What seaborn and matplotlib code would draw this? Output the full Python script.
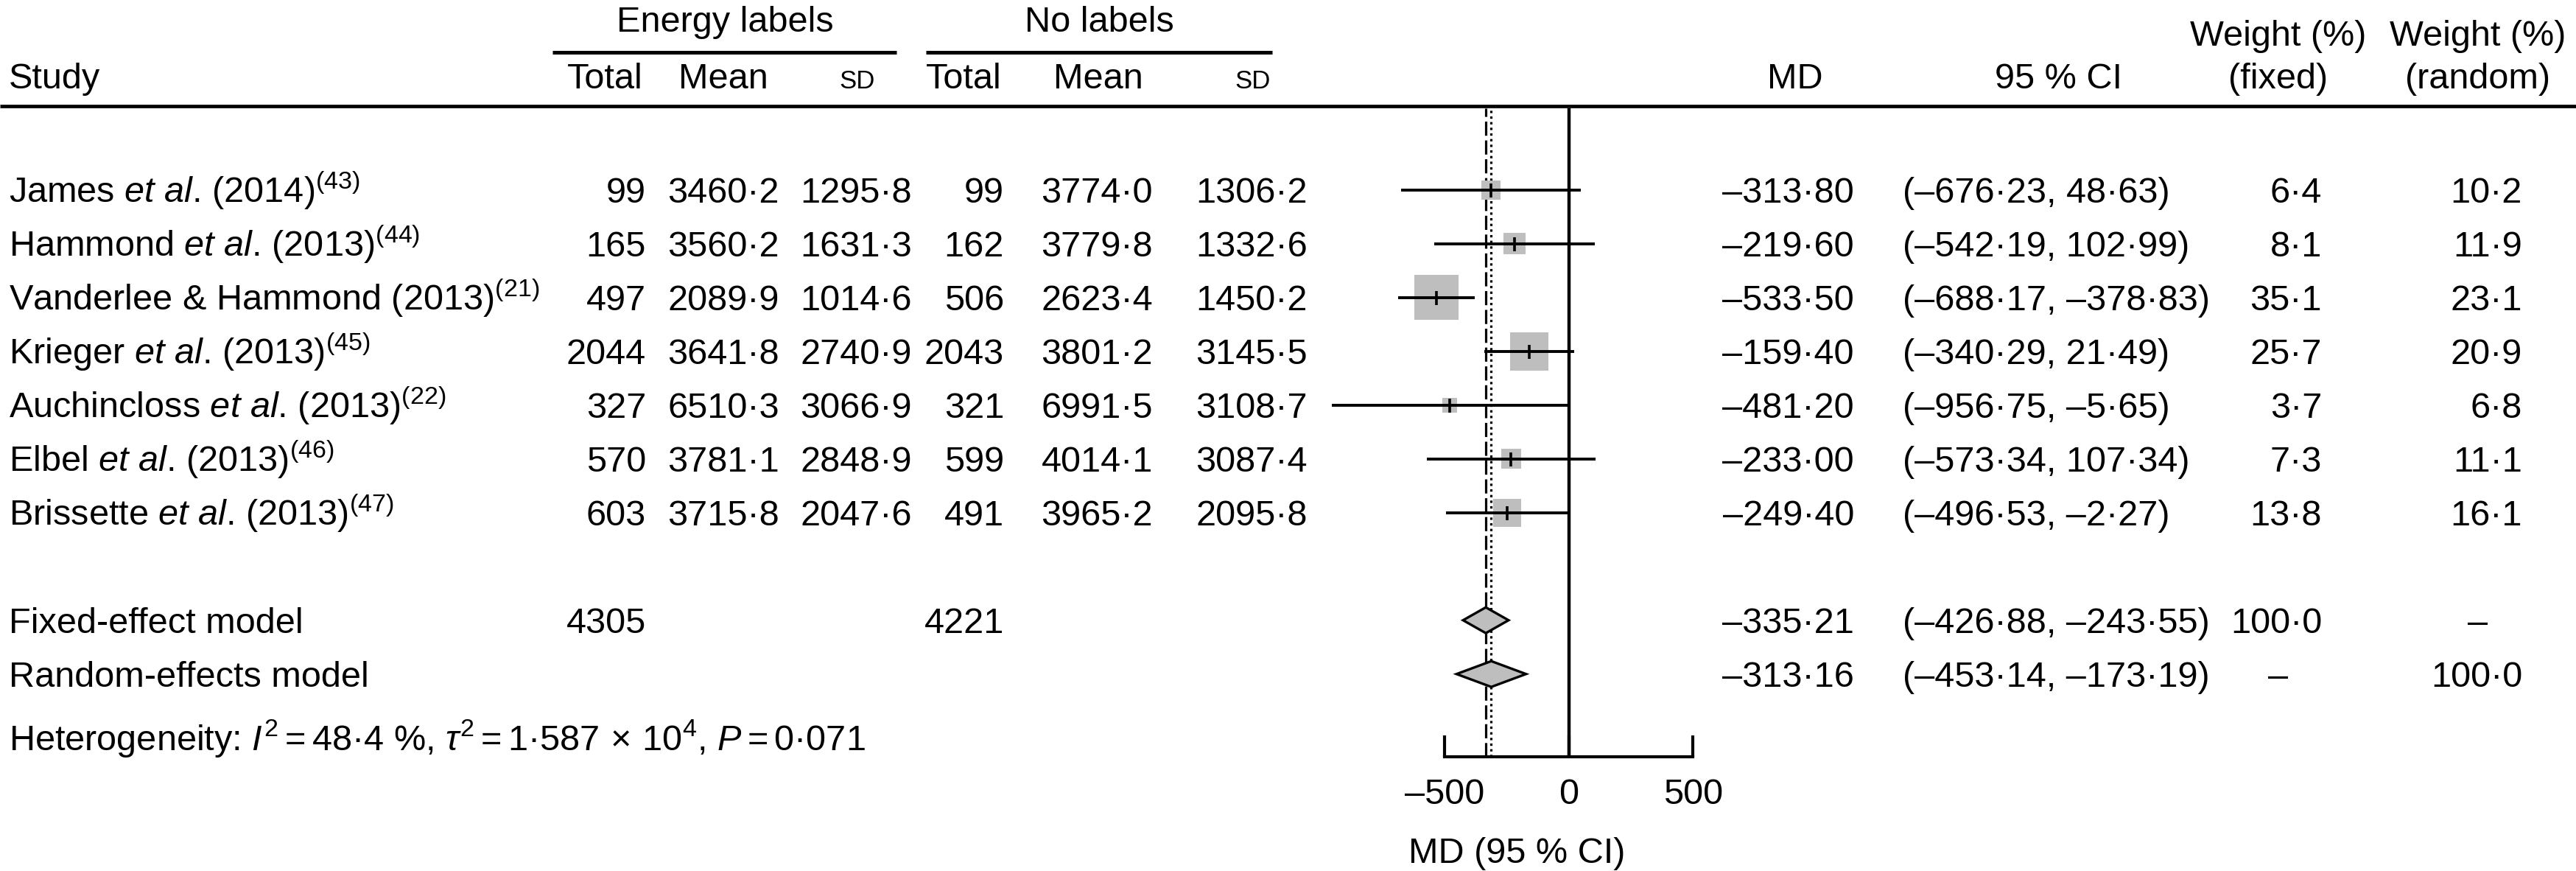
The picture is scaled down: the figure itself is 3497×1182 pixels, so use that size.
import numpy as np
import pandas as pd
import matplotlib
matplotlib.use("Agg")
import matplotlib.pyplot as plt
import matplotlib.transforms as mtransforms
from matplotlib.lines import Line2D
import seaborn as sns

# ---------------- data ----------------
studies = [
    r"James $\mathit{et\ al}$. (2014)$^{(43)}$",
    r"Hammond $\mathit{et\ al}$. (2013)$^{(44)}$",
    r"Vanderlee & Hammond (2013)$^{(21)}$",
    r"Krieger $\mathit{et\ al}$. (2013)$^{(45)}$",
    r"Auchincloss $\mathit{et\ al}$. (2013)$^{(22)}$",
    r"Elbel $\mathit{et\ al}$. (2013)$^{(46)}$",
    r"Brissette $\mathit{et\ al}$. (2013)$^{(47)}$",
]
e_total = [99, 165, 497, 2044, 327, 570, 603]
e_mean = [3460.2, 3560.2, 2089.9, 3641.8, 6510.3, 3781.1, 3715.8]
e_sd = [1295.8, 1631.3, 1014.6, 2740.9, 3066.9, 2848.9, 2047.6]
c_total = [99, 162, 506, 2043, 321, 599, 491]
c_mean = [3774.0, 3779.8, 2623.4, 3801.2, 6991.5, 4014.1, 3965.2]
c_sd = [1306.2, 1332.6, 1450.2, 3145.5, 3108.7, 3087.4, 2095.8]
md = [-313.80, -219.60, -533.50, -159.40, -481.20, -233.00, -249.40]
ci_lo = [-676.23, -542.19, -688.17, -340.29, -956.75, -573.34, -496.53]
ci_hi = [48.63, 102.99, -378.83, 21.49, -5.65, 107.34, -2.27]
w_fixed = [6.4, 8.1, 35.1, 25.7, 3.7, 7.3, 13.8]
w_random = [10.2, 11.9, 23.1, 20.9, 6.8, 11.1, 16.1]

pooled_labels = ["Fixed-effect model", "Random-effects model"]
pooled_md = [-335.21, -313.16]
pooled_lo = [-426.88, -453.14]
pooled_hi = [-243.55, -173.19]
pooled_e_total = [4305, None]
pooled_c_total = [4221, None]
pooled_w_fixed = [100.0, None]
pooled_w_random = [None, 100.0]

heterogeneity = (r"Heterogeneity: $I^{2}=$48·4 %, $\tau^{2}=$1·587$\,\times\,$10$^{4}$, "
                 r"$P=$0·071")
xticks = [-500, 0, 500]
xlabel = "MD (95 % CI)"


def fmt(v, nd):
    if v is None:
        return "\u2013"
    s = f"{v:.{nd}f}"
    return s.replace("-", "\u2013").replace(".", "\u00b7")


# ---------------- style ----------------
sns.set_theme(style="white")
plt.rcParams["font.family"] = ["Liberation Sans", "DejaVu Sans"]
plt.rcParams["mathtext.fontset"] = "custom"
plt.rcParams["mathtext.rm"] = "Liberation Sans"
plt.rcParams["mathtext.it"] = "Liberation Sans:italic"
plt.rcParams["mathtext.bf"] = "Liberation Sans:bold"

FS = 35
FS_SMALL = 25
GRAY = "#BEBEBE"
W, H, DPI = 3497, 1182, 100

fig = plt.figure(figsize=(W / DPI, H / DPI), dpi=DPI, facecolor="white")


def fx(px):
    return px / W


def fy(py):
    return 1 - py / H


# forest axes layout
ZERO_PX, PX_PER = 2130, 0.337
XL, XR = -1040, 620
ROW0_PX, ROW_H = 257.7, 73.0
TOP_PX, BOT_PX = 147, 1027
left_px = ZERO_PX + XL * PX_PER
right_px = ZERO_PX + XR * PX_PER
r_top = 1 + (TOP_PX - ROW0_PX) / ROW_H
r_bot = 1 + (BOT_PX - ROW0_PX) / ROW_H

ax = fig.add_axes([fx(left_px), fy(BOT_PX), (right_px - left_px) / W,
                   (BOT_PX - TOP_PX) / H])
ax.set_xlim(XL, XR)
ax.set_ylim(r_bot, r_top)
ax.patch.set_alpha(0)

rows = np.arange(1, len(studies) + 1)
pooled_rows = np.array([9, 10])
het_row = 11.17

df = pd.DataFrame({"md": md, "lo": ci_lo, "hi": ci_hi, "w": w_fixed, "row": rows})

# reference lines
ax.axvline(0, color="black", lw=3.2, zorder=1)
ax.axvline(pooled_md[0], color="black", lw=2.3, ls=(0, (6, 2)), zorder=1)
ax.axvline(pooled_md[1], color="black", lw=2.3, ls=(0, (1, 1.4)), zorder=1)

# squares (area proportional to fixed weight)
k = (10.2 * 72 / DPI) ** 2
sns.scatterplot(data=df, x="md", y="row", size="w",
                sizes=(k * min(w_fixed), k * max(w_fixed)),
                size_norm=(min(w_fixed), max(w_fixed)),
                marker="s", color=GRAY, edgecolor="none", linewidth=0,
                legend=False, ax=ax, zorder=2)

# CI lines and point ticks
ax.hlines(df["row"], df["lo"], df["hi"], color="black", lw=2.8, zorder=3)
ax.plot(df["md"], df["row"], ls="none", marker="|", ms=19 * 72 / DPI,
        mew=2.6, color="black", zorder=4)

# diamonds
hh = 17.5 / ROW_H
for r, m, lo, hi in zip(pooled_rows, pooled_md, pooled_lo, pooled_hi):
    ax.fill([lo, m, hi, m], [r, r - hh, r, r + hh], facecolor=GRAY,
            edgecolor="black", lw=2.4, zorder=3)

# axis
for s in ["top", "right", "left"]:
    ax.spines[s].set_visible(False)
ax.spines["bottom"].set_bounds(-500, 500)
ax.spines["bottom"].set_linewidth(3)
ax.spines["bottom"].set_color("black")
ax.set_xticks(xticks)
ax.set_xticklabels([fmt(t, 0) for t in xticks])
ax.set_yticks([])
ax.set_ylabel("")
ax.tick_params(axis="x", direction="in", length=21, width=3, pad=21,
               labelsize=FS, colors="black", bottom=True)
ax.set_xlabel(xlabel, fontsize=FS, labelpad=25, color="black")

# ---------------- text ----------------
blend = mtransforms.blended_transform_factory(fig.transFigure, ax.transData)
trans = blend + mtransforms.ScaledTranslation(0, -17.5 / DPI, fig.dpi_scale_trans)


def rtext(px, r, s, ha="right"):
    fig.text(fx(px), r, s, transform=trans, ha=ha, va="baseline", fontsize=FS,
             color="black")


COL = dict(study=12, e_total=877, e_mean=1058, e_sd=1238, c_total=1363,
           c_mean=1565, c_sd=1775, md=2517, ci=2583, wf=3152, wr=3424,
           wf_c=3093, wr_c=3364)

for i, r in enumerate(rows):
    rtext(COL["study"], r, studies[i], ha="left")
    rtext(COL["e_total"], r, str(e_total[i]))
    rtext(COL["e_mean"], r, fmt(e_mean[i], 1))
    rtext(COL["e_sd"], r, fmt(e_sd[i], 1))
    rtext(COL["c_total"], r, str(c_total[i]))
    rtext(COL["c_mean"], r, fmt(c_mean[i], 1))
    rtext(COL["c_sd"], r, fmt(c_sd[i], 1))
    rtext(COL["md"], r, fmt(md[i], 2))
    rtext(COL["ci"], r, f"({fmt(ci_lo[i], 2)}, {fmt(ci_hi[i], 2)})", ha="left")
    rtext(COL["wf"], r, fmt(w_fixed[i], 1))
    rtext(COL["wr"], r, fmt(w_random[i], 1))

for j, r in enumerate(pooled_rows):
    rtext(COL["study"], r, pooled_labels[j], ha="left")
    if pooled_e_total[j] is not None:
        rtext(COL["e_total"], r, str(pooled_e_total[j]))
    if pooled_c_total[j] is not None:
        rtext(COL["c_total"], r, str(pooled_c_total[j]))
    rtext(COL["md"], r, fmt(pooled_md[j], 2))
    rtext(COL["ci"], r, f"({fmt(pooled_lo[j], 2)}, {fmt(pooled_hi[j], 2)})",
          ha="left")
    if pooled_w_fixed[j] is None:
        rtext(COL["wf_c"], r, "\u2013", ha="center")
    else:
        rtext(COL["wf"], r, fmt(pooled_w_fixed[j], 1))
    if pooled_w_random[j] is None:
        rtext(COL["wr_c"], r, "\u2013", ha="center")
    else:
        rtext(COL["wr"], r, fmt(pooled_w_random[j], 1))

rtext(COL["study"], het_row, heterogeneity, ha="left")


# headers
def htext(px, py, s, ha, fs=FS):
    fig.text(fx(px), fy(py), s, ha=ha, va="baseline", fontsize=fs, color="black")


htext(984, 43, "Energy labels", "center")
htext(1492, 43, "No labels", "center")
htext(12, 120, "Study", "left")
htext(873, 120, "Total", "right")
htext(1043, 120, "Mean", "right")
htext(1188, 120, "SD", "right", FS_SMALL)
htext(1360, 120, "Total", "right")
htext(1552, 120, "Mean", "right")
htext(1725, 120, "SD", "right", FS_SMALL)
htext(2475, 120, "MD", "right")
htext(2708, 120, "95 % CI", "left")
htext(3093, 62, "Weight (%)", "center")
htext(3093, 120, "(fixed)", "center")
htext(3364, 62, "Weight (%)", "center")
htext(3364, 120, "(random)", "center")


def hline(x0, x1, py, lw):
    fig.add_artist(Line2D([fx(x0), fx(x1)], [fy(py), fy(py)],
                          transform=fig.transFigure, color="black", lw=lw,
                          solid_capstyle="butt"))


hline(750, 1217, 71, 3.6)
hline(1257, 1727, 71, 3.6)
hline(0, W, 144, 3.4)

fig.savefig("out.png", dpi=DPI, facecolor="white")
